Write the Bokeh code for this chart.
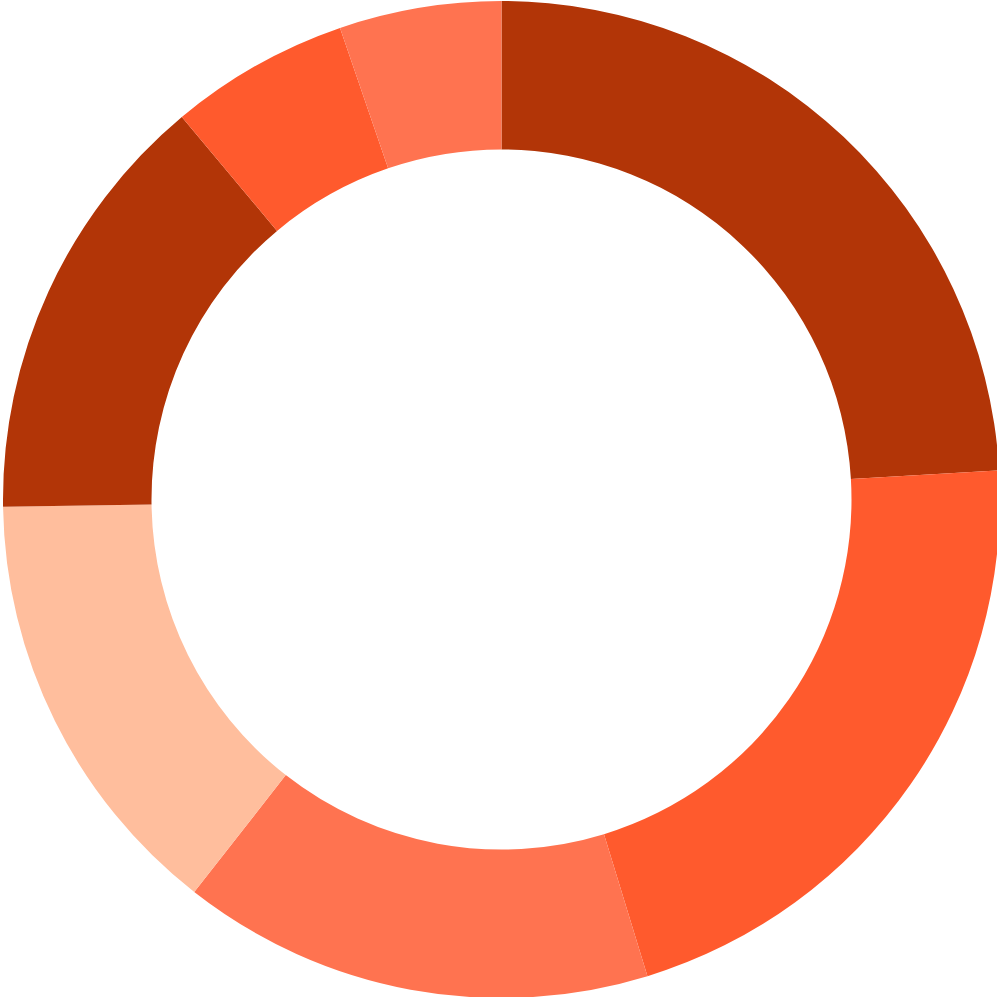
import numpy as np
from bokeh.plotting import figure
from bokeh.models import ColumnDataSource, Range1d
from bokeh.embed import file_html
from bokeh.resources import INLINE

categories = ["A", "B", "C", "D", "E", "F", "G"]
values = [24.07, 21.2, 15.3, 14.2, 14.15, 5.83, 5.25]
colors = ["#B23507", "#FF5A2D", "#FF7350", "#FFBE9D", "#B23507", "#FF5A2D", "#FF7350"]

vals = np.array(values, dtype=float)
fr = vals / vals.sum()
cum = np.concatenate([[0], np.cumsum(fr)])
start = np.pi / 2 - cum[:-1] * 2 * np.pi
end = np.pi / 2 - cum[1:] * 2 * np.pi

src = ColumnDataSource(dict(cat=categories, start=start, end=end, color=colors))

W = 997
cx, cy = 501, 499
p = figure(width=W, height=W, output_backend="svg", toolbar_location=None,
           x_range=Range1d(-cx, W - cx), y_range=Range1d(cy - W, cy),
           min_border=0, outline_line_color=None)
p.axis.visible = False
p.grid.visible = False
p.annular_wedge(x=0, y=0, inner_radius=350, outer_radius=498.5,
                start_angle="start", end_angle="end", direction="clock",
                fill_color="color", line_color=None, source=src)

open("out.html", "w").write(file_html(p, INLINE))
